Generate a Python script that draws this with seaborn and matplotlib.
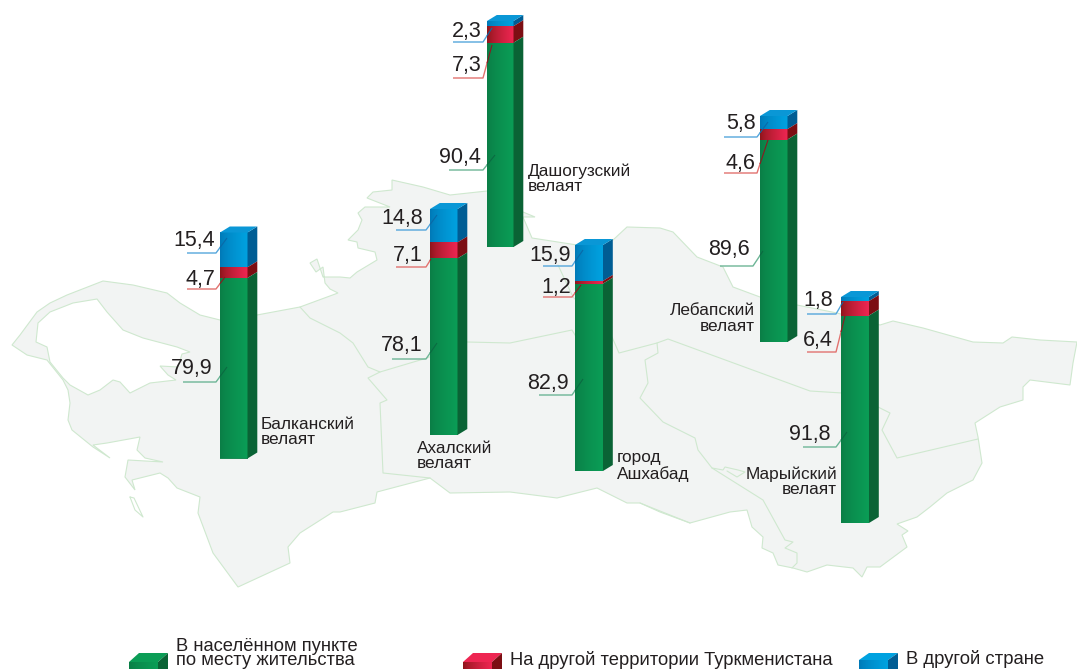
import numpy as np
import pandas as pd
import matplotlib
matplotlib.use("Agg")
import matplotlib.pyplot as plt
from matplotlib.colors import LinearSegmentedColormap
from matplotlib.patches import Polygon
import seaborn as sns

# ---------- data ----------
regions = ["Балканский\nвелаят", "Ахалский\nвелаят", "Дашогузский\nвелаят",
           "город\nАшхабад", "Лебапский\nвелаят", "Марыйский\nвелаят"]
settled = [79.9, 78.1, 90.4, 82.9, 89.6, 91.8]
other_tm = [4.7, 7.1, 7.3, 1.2, 4.6, 6.4]
abroad = [15.4, 14.8, 2.3, 15.9, 5.8, 1.8]
series_names = ["В населённом пункте\nпо месту жительства",
                "На другой территории Туркменистана", "В другой стране"]

# ---------- layout (pixels of the 1077x669 canvas) ----------
W, H = 1077, 669
bar_left = [220, 430, 487, 575, 760, 841]
bar_right = [247.5, 457.5, 513.5, 603, 787.5, 869]
bar_base = [458.5, 435, 247, 471, 342, 523]
bar_px_height = 226
depth_px = (9.8, 6)
region_pos = [(261, 432, "left"), (417, 456, "left"), (528, 179, "left"),
              (617, 466, "left"), (755, 318.5, "right"), (837, 482, "right")]
# text right edge, text centre y, leader line points – per region for settled / other / abroad
settled_lab = [(213, 366, [(183, 382), (216, 382), (227, 367)]),
               (423, 343, [(392, 359), (426, 359), (437, 343)]),
               (481, 155, [(449, 170), (483, 170), (495, 155)]),
               (569, 381, [(539, 395), (572, 395), (583, 379)]),
               (750, 247, [(720, 266), (753, 266), (763, 251)]),
               (831, 432, [(803, 447), (836, 447), (847, 432)])]
other_lab = [(215, 277, [(187, 289), (216, 289), (225, 277)]),
             (423, 253, [(396, 267), (426, 267), (431, 259)]),
             (482, 63, [(453, 78), (483, 78), (492, 45)]),
             (571, 285, [(543, 297), (572, 297), (581, 285)]),
             (755, 161, [(724, 173), (757, 173), (768, 140)]),
             (833, 338, [(807, 352), (836, 352), (845, 316)])]
abroad_lab = [(215, 238, [(187, 253), (216, 253), (227, 238)]),
              (423, 216, [(396, 230), (426, 230), (437, 215)]),
              (482, 29, [(453, 42), (483, 42), (492, 28)]),
              (571, 253, [(543, 266), (572, 266), (583, 250)]),
              (756, 121, [(724, 137), (757, 137), (768, 122)]),
              (833, 298, [(807, 314), (836, 314), (843, 302)])]

# ---------- map background ----------
outline = [(12, 345), (20, 335), (37, 312), (50, 303), (67, 295), (85, 288), (103, 281), (133, 285),
           (167, 293), (180, 303), (200, 315), (220, 320), (257, 315), (300, 307), (338, 293),
           (330, 289), (325, 283), (323, 267), (316, 272), (310, 263), (317, 259), (323, 277),
           (340, 277), (350, 278), (357, 272), (377, 260), (375, 252), (358, 248), (357, 242),
           (348, 240), (358, 230), (362, 220), (358, 213), (365, 207), (390, 207), (367, 198),
           (373, 192), (392, 190), (392, 180), (423, 187), (450, 195), (487, 191), (523, 212),
           (535, 217), (523, 217), (532, 238), (577, 245), (613, 240), (627, 227), (660, 228),
           (673, 232), (697, 257), (723, 267), (733, 287), (760, 297), (797, 305), (837, 313),
           (880, 325), (893, 321), (923, 328), (973, 342), (1003, 343), (1012, 337), (1040, 340),
           (1077, 342), (1073, 363), (1070, 385), (1030, 380), (1023, 387), (1023, 400), (1000, 407),
           (975, 423), (978, 437), (982, 463), (973, 480), (947, 493), (930, 507), (917, 517),
           (897, 524), (908, 531), (902, 535), (907, 547), (880, 567), (867, 567), (862, 577),
           (853, 568), (827, 565), (807, 572), (793, 568), (778, 565), (773, 553), (762, 548),
           (763, 537), (752, 527), (747, 510), (730, 512), (690, 523), (660, 512), (640, 503),
           (627, 503), (597, 488), (557, 498), (510, 492), (450, 493), (430, 478), (377, 492),
           (375, 503), (340, 512), (333, 512), (300, 533), (288, 547), (290, 563), (238, 587),
           (213, 553), (198, 513), (200, 497), (177, 488), (168, 478), (160, 473), (132, 480),
           (135, 490), (125, 477), (128, 460), (163, 462), (145, 458), (137, 450), (140, 437),
           (107, 443), (93, 445), (110, 458), (93, 447), (72, 430), (68, 420), (70, 403),
           (68, 390), (63, 380), (47, 360), (27, 355)]
bay = [(36, 342), (38, 323), (50, 312), (73, 303), (97, 299), (107, 312), (123, 330), (143, 338),
       (177, 347), (190, 352), (182, 354), (178, 367), (160, 366), (168, 375), (176, 380),
       (150, 383), (130, 393), (120, 382), (113, 380), (100, 390), (88, 395), (70, 385), (63, 378),
       (50, 362), (47, 347)]
inner = [
    [(300, 307), (310, 318), (340, 333), (353, 343), (368, 367), (380, 372), (427, 358), (467, 342),
     (510, 343), (572, 330), (581, 345)],
    [(380, 372), (368, 378), (387, 400), (380, 403), (383, 473), (430, 478)],
    [(558, 265), (573, 297), (612, 337), (619, 353), (657, 343), (668, 339), (810, 391), (842, 393),
     (878, 407), (890, 413), (882, 430), (897, 458), (978, 439)],
    [(657, 343), (658, 353), (645, 360), (648, 383), (640, 398), (663, 422), (695, 438), (698, 450),
     (712, 468), (763, 500), (785, 540), (793, 542), (785, 548), (797, 553), (797, 563), (792, 568)],
    [(712, 468), (723, 470), (725, 467), (738, 470), (745, 472), (737, 477), (727, 471)],
    [(640, 503), (690, 523)],
    [(130, 497), (135, 510), (143, 517), (134, 498), (130, 497)],
]

sns.set_theme(style="white")
plt.rcParams["font.family"] = ["Liberation Sans", "DejaVu Sans"]
TXT = "#231f20"
fig = plt.figure(figsize=(W / 100, H / 100), dpi=100, facecolor="white")
bg = fig.add_axes([0, 0, 1, 1], zorder=0)
bg.set_xlim(0, W)
bg.set_ylim(H, 0)
bg.set_axis_off()
edge = "#cfe8cf"
bg.add_patch(Polygon(outline, closed=True, fc="#f2f4f3", ec=edge, lw=0.8))
bg.add_patch(Polygon(bay, closed=True, fc="white", ec=edge, lw=0.8))
for seg in inner:
    a = np.array(seg)
    bg.plot(a[:, 0], a[:, 1], color=edge, lw=0.8)

# ---------- face colours ----------
green = ("#0a7d46", "#0b9d56", "#0a6335")
red = ("#8b1519", "#ee2652", "#7c0e13")
blue = ("#0078b6", "#00a2e0", "#005d94")
grads = [LinearSegmentedColormap.from_list("g", c[:2]) for c in (green, red, blue)]

# ---------- bars ----------
for i, name in enumerate(regions):
    x0, x1, base = bar_left[i], bar_right[i], bar_base[i]
    ax = fig.add_axes([x0 / W, (H - base) / H, (x1 - x0) / W, bar_px_height / H], zorder=2)
    ax.patch.set_alpha(0)
    tops = np.cumsum([settled[i], other_tm[i], abroad[i]])
    lows = np.r_[0, tops[:-1]]
    dx = depth_px[0] / (x1 - x0)
    dy = depth_px[1] / bar_px_height * 100
    frame = pd.DataFrame({"region": [name], "top": [0.0]})
    for k in [2, 1, 0]:
        frame["top"] = tops[k]
        sns.barplot(data=frame, x="region", y="top", width=1, color=(green, red, blue)[k][1],
                    errorbar=None, ax=ax, zorder=2 + 3 - k, linewidth=0)
        patch = ax.containers[-1][0]
        im = ax.imshow(np.linspace(0, 1, 64)[None, :] ** 0.7, cmap=grads[k], aspect="auto",
                       extent=(-0.5, 0.5, 0, tops[k]), zorder=2.5 + 3 - k)
        im.set_clip_path(patch)
        ax.add_patch(Polygon([(0.5, lows[k]), (0.5 + dx, lows[k] + dy), (0.5 + dx, tops[k] + dy), (0.5, tops[k])],
                             closed=True, fc=(green, red, blue)[k][2], ec="none", clip_on=False, zorder=6))
    ax.add_patch(Polygon([(-0.5, tops[2]), (0.5, tops[2]), (0.5 + dx, tops[2] + dy), (-0.5 + dx, tops[2] + dy)],
                         closed=True, fc="#0a97d6", ec="none", clip_on=False, zorder=6))
    ax.set_xlim(-0.5, 0.5)
    ax.set_ylim(0, 100)
    ax.set_axis_off()

# ---------- labels over everything ----------
fg = fig.add_axes([0, 0, 1, 1], zorder=5)
fg.patch.set_alpha(0)
fg.set_xlim(0, W)
fg.set_ylim(H, 0)
fg.set_axis_off()


def fmt(v):
    return f"{v:.1f}".replace(".", ",")


for vals, labs, col, dark in ((settled, settled_lab, "#6db596", "#0b6b42"),
                              (other_tm, other_lab, "#e2726f", "#8a1a20"),
                              (abroad, abroad_lab, "#55a6dc", "#0a6aa8")):
    for i, (v, (xr, yc, pts)) in enumerate(zip(vals, labs)):
        fg.text(xr, yc, fmt(v), ha="right", va="center_baseline", fontsize=15.5, color=TXT)
        a = np.array(pts)
        # outside the bar the leader is pale (it runs under the bar); over the bar it is a dark tone
        bg.plot(a[:, 0], a[:, 1], color=col, lw=1.0, solid_capstyle="butt", zorder=5)
        (xa, ya), (xb, yb) = pts[1], pts[2]
        xe = bar_left[i]
        ye = ya + (yb - ya) * (xe - xa) / (xb - xa)
        fg.plot([xe, xb], [ye, yb], color=dark, lw=0.8, solid_capstyle="butt")

for name, (x, y, ha) in zip(regions, region_pos):
    fg.text(x, y, name, ha=ha, va="center", fontsize=12.4, color=TXT, linespacing=1.02, multialignment=ha)


# ---------- legend (cut by the lower canvas edge as in the source) ----------
def key(x0, x1, x2, y_front, y_back, cols, cmap):
    ybot = H + 20
    depth = y_front - y_back
    fg.add_patch(Polygon([(x0, y_front), (x1, y_front), (x2, y_back), (x0 + (x2 - x1), y_back)],
                         closed=True, fc=cols[1], ec="none"))
    fg.add_patch(Polygon([(x1, y_front), (x2, y_back), (x2, ybot - depth), (x1, ybot)],
                         closed=True, fc=cols[2], ec="none"))
    fg.imshow(np.linspace(0, 1, 64)[None, :] ** 0.7, cmap=cmap, aspect="auto",
              extent=(x0, x1, ybot, y_front), zorder=2)


key(129, 158, 168, 662, 653, green, grads[0])
key(463, 492, 502, 662, 653, red, grads[1])
key(859, 888, 898, 660, 653, blue, grads[2])
fg.set_xlim(0, W)
fg.set_ylim(H, 0)
fg.text(176, 653.5, series_names[0], ha="left", va="center", fontsize=13.2, color=TXT, linespacing=0.78)
fg.text(510, 660, series_names[1], ha="left", va="center", fontsize=13.2, color=TXT)
fg.text(906, 659, series_names[2], ha="left", va="center", fontsize=13.3, color=TXT)

fig.savefig("out.png", dpi=100)
